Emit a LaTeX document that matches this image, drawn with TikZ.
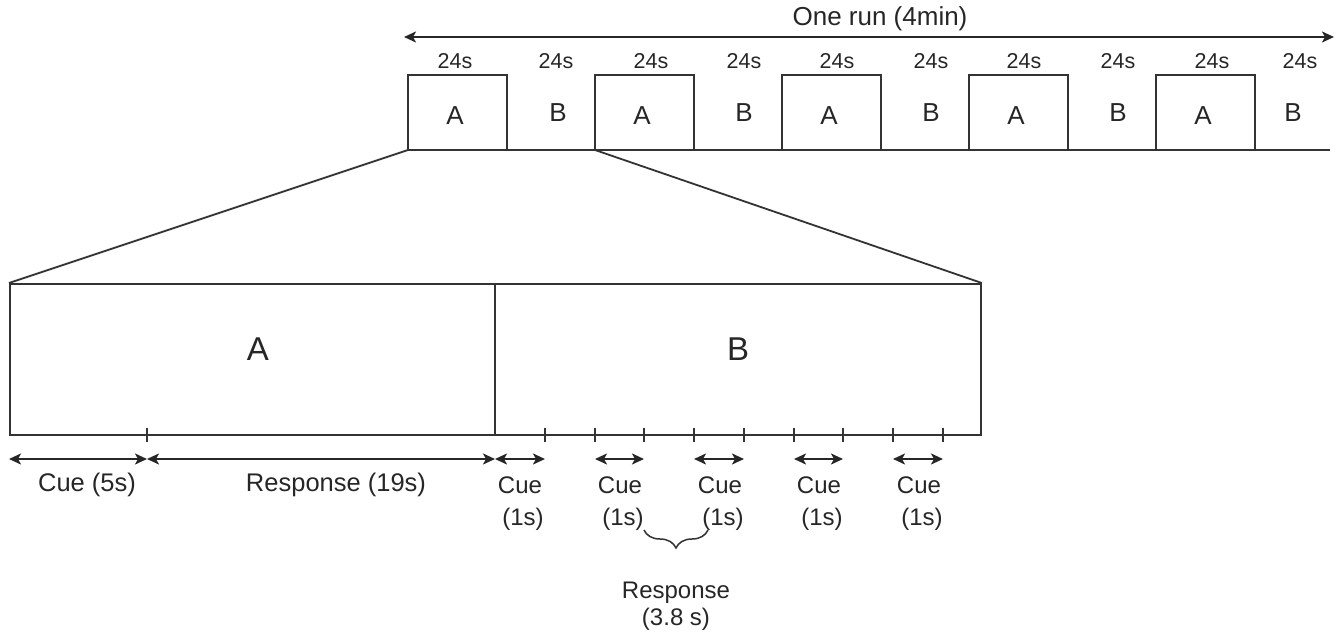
\documentclass[tikz,border=0pt]{standalone}
\usepackage{fontspec}
\setmainfont{Liberation Sans}
\usetikzlibrary{arrows.meta,decorations.pathreplacing}
\begin{document}
\begin{tikzpicture}[x=1pt,y=-1pt,
  ln/.style={line width=1.8pt,draw=black!80},
  dbl/.style={line width=1.8pt,draw=black!85,{Stealth[length=12pt,width=11pt,inset=3pt]}-{Stealth[length=12pt,width=11pt,inset=3pt]}},
  tick/.style={line width=1.5pt,draw=black!80},
  txt/.style={inner sep=0pt,text=black!85},
  runlbl/.style={txt,font=\fontsize{26}{30}\selectfont},
  small/.style={txt,font=\fontsize{21.5}{25}\selectfont},
  mid/.style={txt,font=\fontsize{26}{30}\selectfont},
  big/.style={txt,font=\fontsize{33}{38}\selectfont},
  cue/.style={txt,font=\fontsize{24}{28}\selectfont},
  lbl/.style={txt,font=\fontsize{25.5}{30}\selectfont}]
\useasboundingbox (0,0) rectangle (1339,642);
% top arrow
\coordinate (rl) at (404,37);
\coordinate (rr) at (1334,37);
\draw[dbl] (rl) -- (rr);
\node[runlbl] (run) at (880,19) {One run (4min)};
% baseline
\coordinate (bl) at (408,150);
\coordinate (br) at (1330,150);
\draw[ln] (bl) -- (br);
% A boxes
\foreach \i/\x in {1/408,2/595,3/782,4/969,5/1156}{
  \draw[ln] (\x,150) -- (\x,75) -- ({\x+99},75) -- ({\x+99},150);
  \node[mid] (a\i) at ({\x+47},116) {A};
  \coordinate (as\i) at (\x,150);
}
\foreach \i/\x in {1/558,2/744,3/931,4/1118,5/1293}{
  \node[mid] (b\i) at (\x,113) {B};
}
\foreach \x in {455,556,651,744,837,931,1024,1118,1212,1300}{
  \node[small] at (\x,61) {24s};
}
% big box
\node[draw=black!80,line width=1.8pt,minimum width=971pt,minimum height=151pt,inner sep=0pt,anchor=north west] (bigbox) at (9,283) {};
\coordinate (divt) at (495,283);
\coordinate (divb) at (495,434);
\draw[ln] (divt) -- (divb);
\draw[ln] (as1) -- (bigbox.north west);
\draw[ln] (as2) -- (bigbox.north east);
\node[big] (ba) at (258,349) {A};
\node[big] (bb) at (738,349) {B};
% ticks
\foreach \x in {147,545,595,644,694,744,794,843,893,943}{
  \draw[tick] (\x,428) -- (\x,442);
}
% arrows
\coordinate (c0) at (9,459);
\coordinate (c1) at (147,459);
\coordinate (c2) at (495,459);
\draw[dbl] (c0) -- (c1);
\draw[dbl] (c1) -- (c2);
\node[lbl] (cue5) at (87,485) {Cue (5s)};
\node[lbl] (resp19) at (336,485) {Response (19s)};
\foreach \a/\b/\c in {495/545/520,595/644/620,694/744/720,794/843/819,893/943/919}{
  \draw[dbl] (\a,459) -- (\b,459);
  \node[cue] at (\c,485) {Cue};
  \node[cue] at ({\c+3},519) {(1s)};
}
% brace
\coordinate (brl) at (644,530);
\coordinate (brr) at (708,530);
\draw[line width=1.5pt,draw=black!80,decoration={brace,mirror,amplitude=18pt},decorate] (brl) -- (brr);
\node[cue] (resp) at (676,593) {Response};
\node[cue] (resps) at (676,619) {(3.8 s)};
\end{tikzpicture}
\end{document}
